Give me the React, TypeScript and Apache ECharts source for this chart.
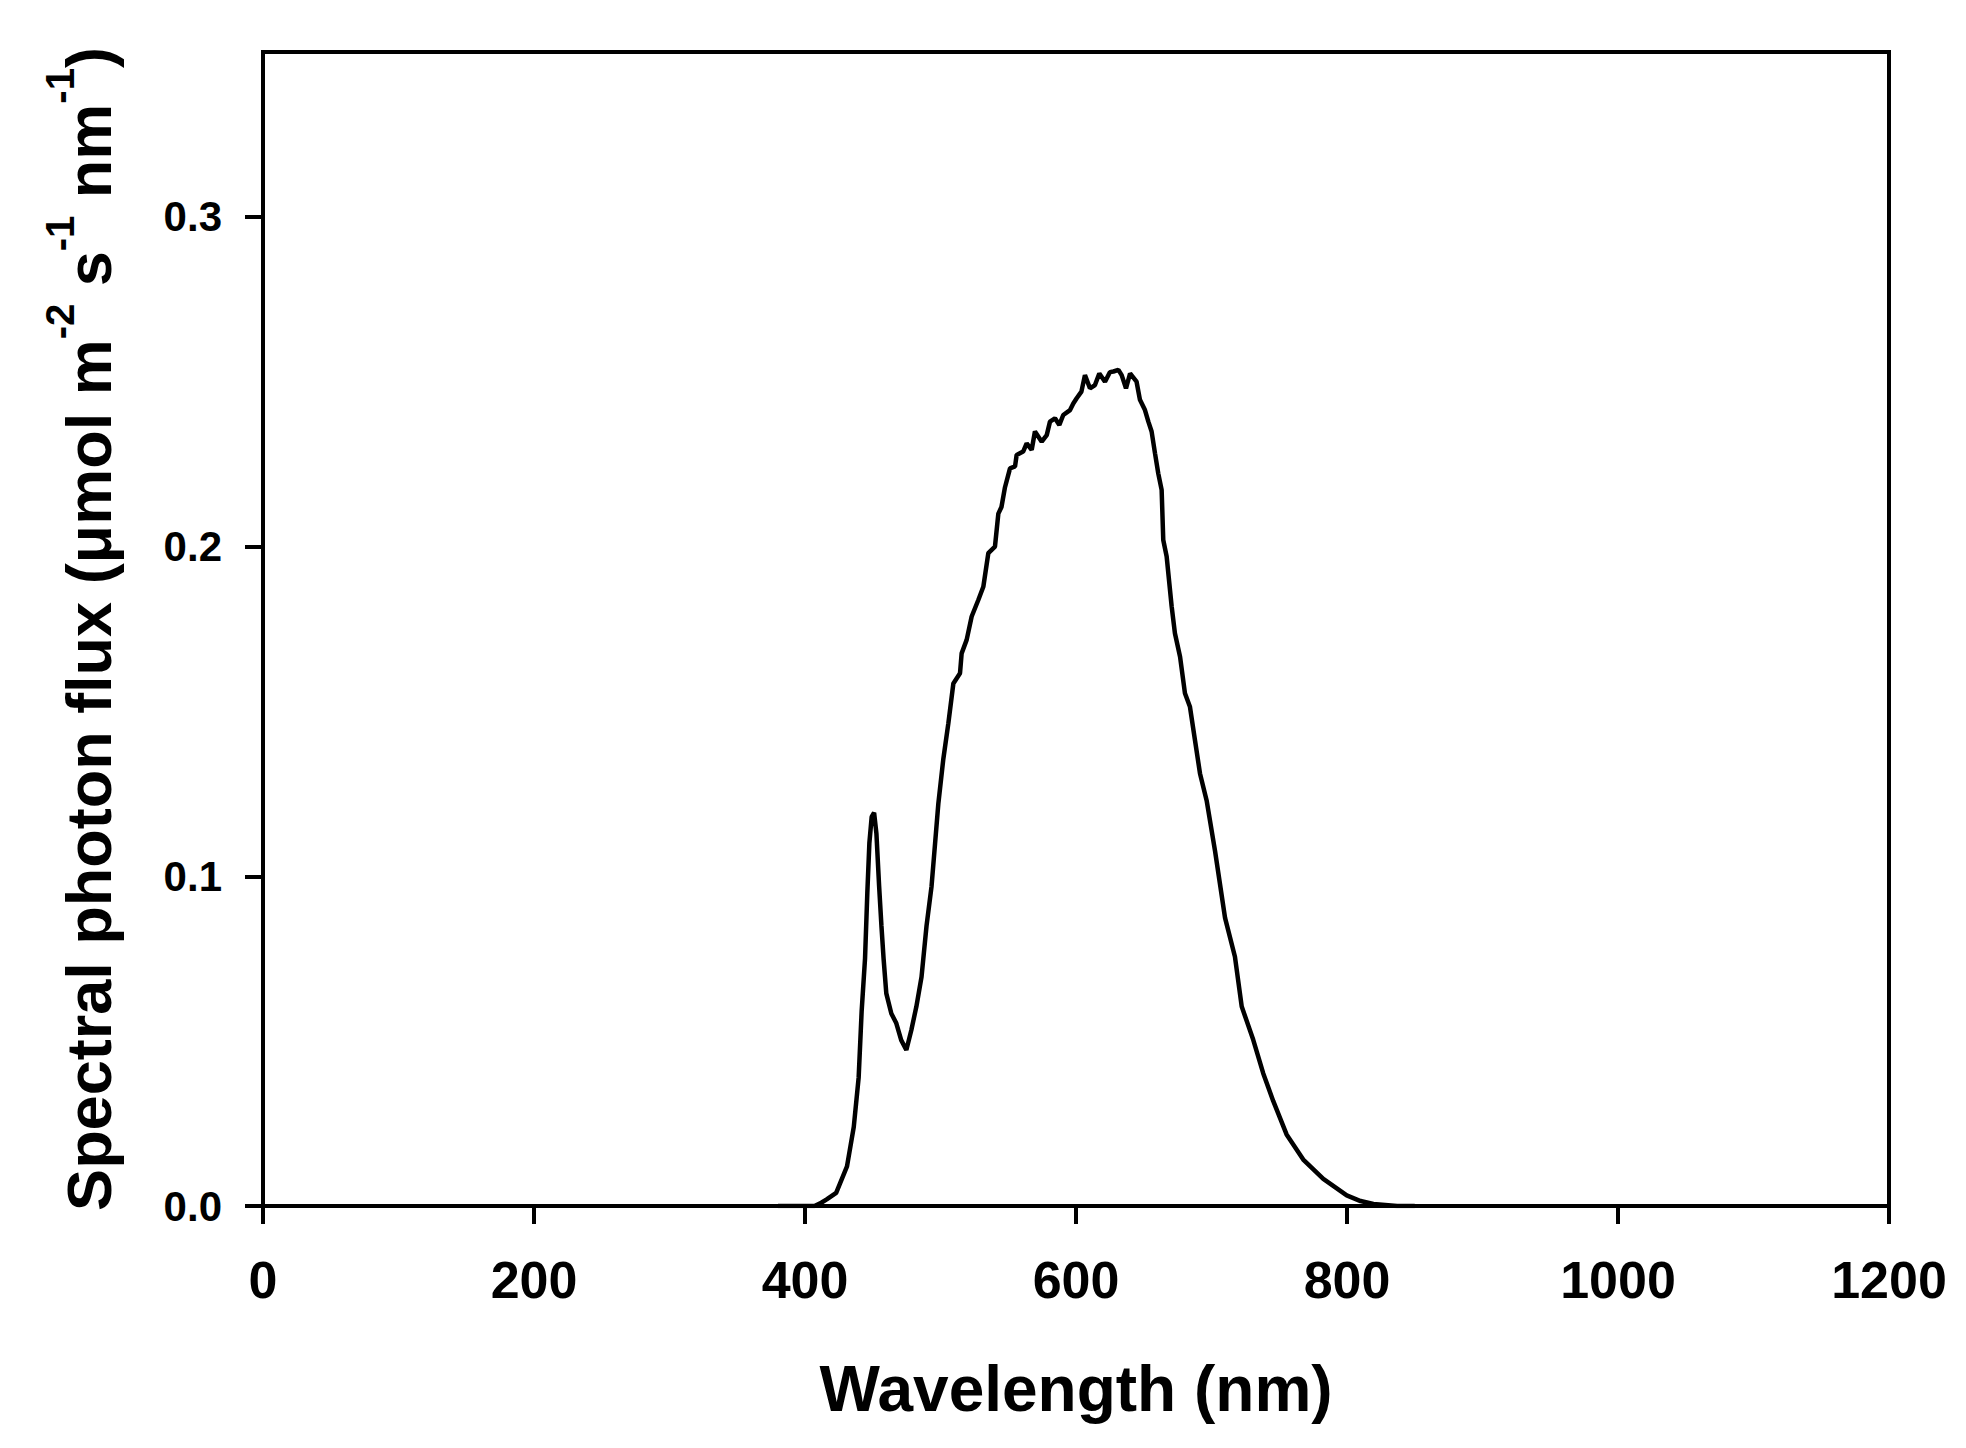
import React, { useEffect, useRef } from "react";
import * as echarts from "echarts";

const WAVELENGTHS = [
  380, 400, 407, 412, 416, 423, 431, 436, 439.6, 441.8, 444.3, 446, 447.5, 449.2, 451, 452.7,
  454.7, 456.4, 458, 460, 463.7, 467.4, 471, 474.8, 478.5, 482.2, 486, 489.7, 493.4, 496,
  498.4, 502, 505.8, 509.5, 514.4, 515.6, 519.3, 523, 527.9, 531.6, 535.3, 540.2, 542.7, 545,
  547.6, 551.3, 555, 556.2, 561, 563.6, 567.3, 569.7, 574.7, 578.4, 580.8, 584.5, 587.7,
  590.6, 595.6, 598, 600.5, 604, 606.6, 610.3, 614, 617.2, 621.4, 625, 627.6, 631.3, 633.7,
  636.9, 639.9, 644.7, 647.2, 650.9, 653.4, 655.8, 658.3, 660.7, 663.2, 664.4, 666.9, 670.6,
  673, 676.8, 680.4, 684.1, 687.8, 691.5, 696.4, 702.6, 710, 717.3, 722.3, 730.8, 738.2,
  745.6, 755.4, 767.7, 782.5, 799.8, 810, 819.5, 837, 850,
];

const FLUX = [
  0, 0, 0, 0.001, 0.002, 0.004, 0.012, 0.024, 0.039, 0.059, 0.075, 0.095, 0.11, 0.118, 0.1193,
  0.113, 0.097, 0.085, 0.075, 0.0645, 0.0584, 0.0554, 0.0503, 0.0473, 0.0534, 0.0605, 0.0695,
  0.085, 0.097, 0.11, 0.122, 0.1353, 0.1464, 0.1585, 0.1616, 0.1676, 0.1717, 0.1788, 0.1838,
  0.1878, 0.198, 0.2, 0.21, 0.212, 0.218, 0.2237, 0.2243, 0.2278, 0.2288, 0.2313, 0.2293,
  0.2349, 0.2318, 0.2338, 0.2379, 0.2389, 0.2369, 0.2399, 0.2414, 0.2434, 0.245, 0.247, 0.252,
  0.248, 0.249, 0.2525, 0.25, 0.2529, 0.2531, 0.2536, 0.252, 0.248, 0.2525, 0.25, 0.2445,
  0.2414, 0.2379, 0.2349, 0.2283, 0.2222, 0.2172, 0.202, 0.197, 0.1818, 0.1737, 0.1666,
  0.1555, 0.1514, 0.1413, 0.1312, 0.123, 0.1077, 0.0874, 0.0756, 0.0605, 0.0504, 0.0402,
  0.0318, 0.0217, 0.0141, 0.0082, 0.0032, 0.0015, 0.0006, 0, 0,
];

const X_TICKS = [0, 200, 400, 600, 800, 1000, 1200];
const Y_TICKS = [0, 0.1, 0.2, 0.3];

const X_TITLE = "Wavelength (nm)";
const FONT = "'Liberation Sans', Arial, Helvetica, sans-serif";

export default function App() {
  const ref = useRef<HTMLDivElement>(null);

  useEffect(() => {
    if (!ref.current) return;
    const chart = echarts.init(ref.current, undefined, { renderer: "svg" });
    const data = WAVELENGTHS.map((w, i) => [w, FLUX[i]]);

    chart.setOption({
      animation: false,
      backgroundColor: "#ffffff",
      grid: {
        left: 263,
        right: 77,
        top: 52,
        bottom: 242,
        show: true,
        borderColor: "#000",
        borderWidth: 4,
        backgroundColor: "transparent",
      },
      xAxis: {
        type: "value",
        min: 0,
        max: 1200,
        interval: 200,
        splitLine: { show: false },
        axisLine: { show: true, onZero: false, lineStyle: { color: "#000", width: 4 } },
        axisTick: {
          show: true,
          inside: false,
          length: 18,
          customValues: X_TICKS,
          lineStyle: { color: "#000", width: 4 },
        },
        axisLabel: {
          customValues: X_TICKS,
          margin: 48,
          color: "#000",
          fontFamily: FONT,
          fontWeight: "bold",
          fontSize: 52,
          lineHeight: 52,
          formatter: (v: number) => String(v),
        },
        name: X_TITLE,
        nameLocation: "middle",
        nameGap: 151,
        nameTextStyle: {
          color: "#000",
          fontFamily: FONT,
          fontWeight: "bold",
          fontSize: 64,
          lineHeight: 64,
        },
      },
      yAxis: {
        type: "value",
        min: 0,
        max: 0.35,
        interval: 0.1,
        splitLine: { show: false },
        axisLine: { show: true, onZero: false, lineStyle: { color: "#000", width: 4 } },
        axisTick: {
          show: true,
          inside: false,
          length: 18,
          customValues: Y_TICKS,
          lineStyle: { color: "#000", width: 4 },
        },
        axisLabel: {
          customValues: Y_TICKS,
          margin: 41,
          color: "#000",
          fontFamily: FONT,
          fontWeight: "bold",
          fontSize: 42,
          formatter: (v: number) => v.toFixed(1),
        },
        name:
          "{a|Spectral photon flux (μmol m}{s|-2}{a| s}{s|-1}{a| nm}{s|-1}{a|)}",
        nameLocation: "middle",
        nameRotate: 90,
        nameGap: 143,
        nameTextStyle: {
          color: "#000",
          fontFamily: FONT,
          fontWeight: "bold",
          fontSize: 63,
          rich: {
            a: {
              color: "#000",
              fontFamily: FONT,
              fontWeight: "bold",
              fontSize: 63,
              lineHeight: 80,
              verticalAlign: "bottom",
            },
            s: {
              color: "#000",
              fontFamily: FONT,
              fontWeight: "bold",
              fontSize: 40,
              lineHeight: 36,
              verticalAlign: "top",
            },
          },
        },
      },
      series: [
        {
          type: "line",
          data,
          showSymbol: false,
          symbol: "none",
          smooth: false,
          lineStyle: { color: "#000", width: 4.5 },
          emphasis: { disabled: true },
        },
      ],
    });

    return () => chart.dispose();
  }, []);

  return (
    <div
      ref={ref}
      style={{ position: "absolute", left: 0, top: 0, width: 1966, height: 1448 }}
    />
  );
}
